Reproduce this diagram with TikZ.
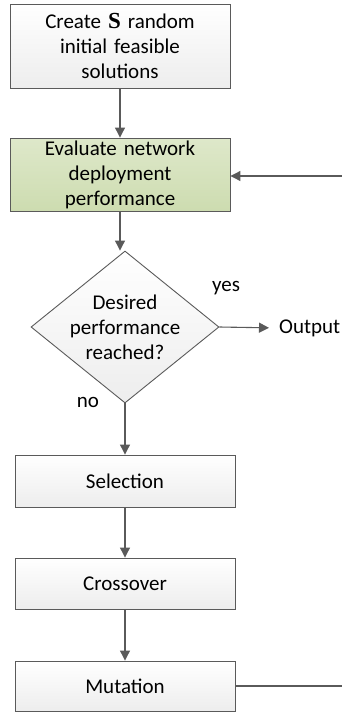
\documentclass[tikz,border=0pt]{standalone}
\usepackage{fontspec}
\setmainfont{Carlito}
\newfontfamily\serifS{Liberation Serif}
\usetikzlibrary{shapes.geometric,arrows.meta}
\definecolor{linegray}{HTML}{5A5A5A}
\definecolor{boxtop}{HTML}{FFFFFF}
\definecolor{boxbot}{HTML}{EDEDED}
\definecolor{greentop}{HTML}{DEE8CA}
\definecolor{greenbot}{HTML}{CDDCB0}
\tikzset{
  flowbox/.style={draw=linegray, line width=0.9pt, shading=axis, top color=boxtop, bottom color=boxbot,
    minimum width=220pt, text width=210pt, align=center, inner sep=0pt, font=\fontsize{21}{25}\selectfont},
  greenbox/.style={flowbox, top color=greentop, bottom color=greenbot},
  decbox/.style={draw=linegray, line width=0.9pt, shape=diamond, shading=axis, top color=boxtop, bottom color=boxbot,
    minimum width=188pt, minimum height=152pt, inner sep=0pt},
  lbl/.style={font=\fontsize{21}{25}\selectfont, inner sep=0pt, align=center},
  conn/.style={draw=linegray, line width=1.1pt, -{Triangle[length=10pt,width=10pt]}},
  plain/.style={draw=linegray, line width=1.1pt}
}
\begin{document}
\begin{tikzpicture}[x=1pt,y=-1pt]
\useasboundingbox (0,0) rectangle (342,713);
\node[flowbox, minimum height=84pt] (init) at (120,46) {Create {\serifS\bfseries\fontsize{23}{25}\selectfont S} random\\initial feasible\\solutions};
\node[greenbox, minimum height=73pt] (eval) at (120,174.5) {Evaluate network\\deployment\\performance};
\node[decbox] (dec) at (125,327) {};
\node[lbl] (dectext) at (125,327) {Desired\\performance\\reached?};
\node[flowbox, minimum height=52pt] (sel) at (125,481) {Selection};
\node[flowbox, minimum height=51pt] (cross) at (125,583.5) {Crossover};
\node[flowbox, minimum height=50pt] (mut) at (125,686) {Mutation};
\node[lbl, anchor=west] (out) at (279,328) {Output};
\node[lbl] (yes) at (226,288) {yes};
\node[lbl] (no) at (88,402) {no};
\coordinate (fbin) at (342,176);
\coordinate (fbout) at (342,686);
\draw[conn] (init.south) -- (eval.north);
\draw[conn] (eval.south -| init.south) -- (dec.north -| init.south);
\draw[conn, shorten >=10pt] (dec.east) -- (out.west);
\draw[conn] (dec.south) -- (sel.north);
\draw[conn] (sel.south) -- (cross.north);
\draw[conn] (cross.south) -- (mut.north);
\draw[plain] (mut.east) -- (fbout);
\draw[conn] (fbin) -- (eval.east |- fbin);
\end{tikzpicture}
\end{document}
